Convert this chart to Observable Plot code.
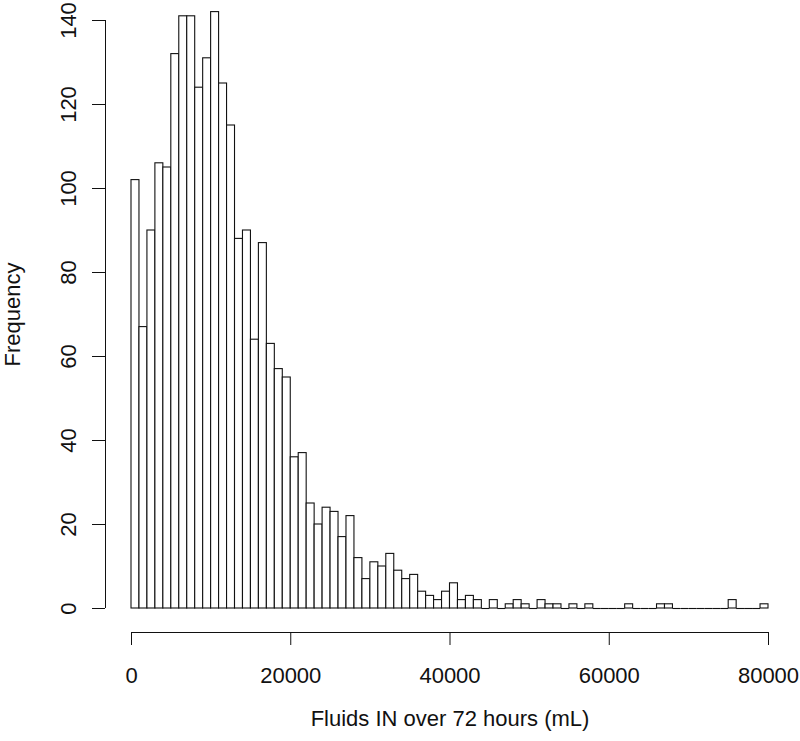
<!DOCTYPE html>
<html>
<head>
<meta charset="utf-8">
<script src="https://cdn.jsdelivr.net/npm/d3@7"></script>
<script src="https://cdn.jsdelivr.net/npm/@observablehq/plot@0.6"></script>
<style>
  html, body { margin: 0; padding: 0; background: #fff; }
  #chart { width: 800px; height: 741px; }
</style>
</head>
<body>
<div id="chart"></div>
<script>
// Histogram bin width (mL) and counts per bin, 0–80000 mL
const binWidth = 1000;
const counts = [
  102, 67, 90, 106, 105, 132, 141, 141, 124, 131, 142, 125, 115,
  88, 90, 64, 87, 63, 57, 55, 36, 37,
  25, 20, 24, 23, 17, 22, 12, 7, 11, 10, 13, 9, 7,
  8, 4, 3, 2, 4, 6, 2, 3, 2, 0, 2, 0, 1, 2, 1, 0, 2, 1, 1, 0, 1,
  0, 1, 0, 0, 0, 0, 1, 0, 0, 0, 1, 1, 0, 0, 0, 0, 0, 0, 0, 2, 0, 0, 0, 1
];
const xTicks = [0, 20000, 40000, 60000, 80000];
const yTicks = [0, 20, 40, 60, 80, 100, 120, 140];
const xTitle = "Fluids IN over 72 hours (mL)";
const yTitle = "Frequency";

const bins = counts.map((c, i) => ({x0: i * binWidth, x1: (i + 1) * binWidth, count: c}));
const filled = bins.filter(d => d.count > 0);
const empty = bins.filter(d => d.count === 0);

const fs = 22;
const ink = "#111";
const chart = Plot.plot({
  width: 800,
  height: 741,
  marginLeft: 131,
  marginRight: 32,
  marginTop: 20,
  marginBottom: 133,
  style: {fontFamily: "'Liberation Sans', Arial, Helvetica, sans-serif", color: ink, background: "#fff"},
  x: {domain: [0, 80000], axis: null},
  y: {domain: [0, 140], axis: null},
  marks: [
    Plot.rectY(filled, {x1: "x0", x2: "x1", y1: 0, y2: "count", fill: "white", stroke: ink, strokeWidth: 1.1, inset: 0}),
    Plot.ruleY(empty, {x1: "x0", x2: "x1", y: 0, stroke: ink, strokeWidth: 1.1}),
    // x axis
    Plot.ruleY([0], {x1: xTicks[0], x2: xTicks[xTicks.length - 1], dy: 24, stroke: ink}),
    Plot.axisX(xTicks, {anchor: "bottom", tickSize: 13, dy: 24, tickFormat: () => "", label: null, stroke: ink}),
    Plot.text(xTicks, {x: d => d, text: d => String(d), frameAnchor: "bottom", dy: 67, lineAnchor: "middle", fontSize: fs, fill: ink}),
    Plot.text([xTitle], {frameAnchor: "bottom", dy: 110, lineAnchor: "middle", fontSize: fs, fill: ink}),
    // y axis
    Plot.ruleX([0], {y1: yTicks[0], y2: yTicks[yTicks.length - 1], dx: -26, stroke: ink}),
    Plot.axisY(yTicks, {anchor: "left", tickSize: 13, dx: -26, tickFormat: () => "", label: null, stroke: ink}),
    Plot.text(yTicks, {y: d => d, text: d => String(d), frameAnchor: "left", dx: -63, rotate: -90, lineAnchor: "middle", textAnchor: "middle", fontSize: fs, fill: ink}),
    Plot.text([yTitle], {frameAnchor: "left", dx: -119, rotate: -90, lineAnchor: "middle", textAnchor: "middle", fontSize: fs, fill: ink})
  ]
});
document.getElementById("chart").appendChild(chart);
</script>
</body>
</html>
